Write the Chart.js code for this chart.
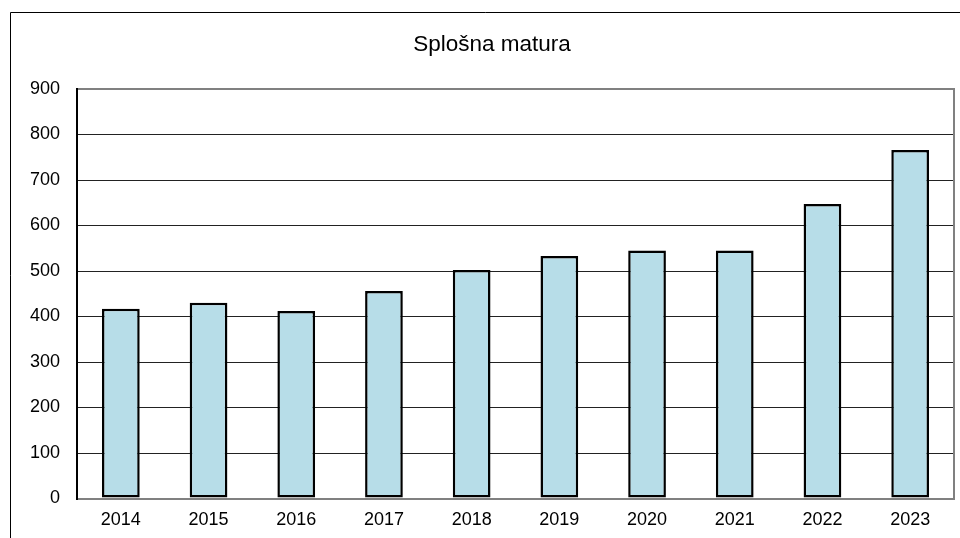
<!DOCTYPE html>
<html>
<head>
<meta charset="utf-8">
<script src="https://cdn.jsdelivr.net/npm/chart.js@4"></script>
<style>
  html, body { margin: 0; padding: 0; background: #fff; overflow: hidden; }
  #wrap { position: relative; width: 960px; height: 538px; }
</style>
</head>
<body>
<div id="wrap"><canvas id="chart"></canvas></div>
<script>
const chartTitle = "Splošna matura";
const years = ["2014", "2015", "2016", "2017", "2018", "2019", "2020", "2021", "2022", "2023"];
const candidates = [417, 430, 412, 456, 502, 533, 545, 545, 647, 766];
const yMin = 0;
const yMax = 900;
const yStep = 100;

const barFill = "#B7DDE8";
const fontFamily = "'Liberation Sans', Arial, sans-serif";

// outer frame (only left + top fall inside the picture), title over the frame,
// and the grey right edge of the plot
const framePlugin = {
  id: "frame",
  beforeDraw(chart) {
    const ctx = chart.ctx;
    ctx.save();
    ctx.strokeStyle = "#000";
    ctx.lineWidth = 1;
    ctx.beginPath();
    ctx.moveTo(10.5, 538);
    ctx.lineTo(10.5, 12.5);
    ctx.lineTo(960, 12.5);
    ctx.stroke();

    // title is centred on the outer frame, which runs past the right edge
    ctx.fillStyle = "#000";
    ctx.font = "22.5px " + fontFamily;
    ctx.textAlign = "center";
    ctx.textBaseline = "alphabetic";
    ctx.fillText(chartTitle, 492, 51);
    ctx.restore();
  },
  afterDatasetsDraw(chart) {
    const a = chart.chartArea;
    const ctx = chart.ctx;
    ctx.save();
    ctx.strokeStyle = "#808080";
    ctx.lineWidth = 2;
    ctx.beginPath();
    ctx.moveTo(a.right, a.top - 1);
    ctx.lineTo(a.right, a.bottom + 1);
    ctx.stroke();
    ctx.restore();
  }
};

Chart.defaults.font.family = fontFamily;
Chart.defaults.color = "#000";

new Chart(document.getElementById("chart"), {
  type: "bar",
  plugins: [framePlugin],
  data: {
    labels: years,
    datasets: [{
      data: candidates,
      backgroundColor: barFill,
      borderColor: "#000",
      borderWidth: 2.5,
      borderSkipped: false,
      categoryPercentage: 1,
      barPercentage: 0.43
    }]
  },
  options: {
    responsive: true,
    maintainAspectRatio: false,
    animation: false,
    layout: { padding: { left: 10, right: 6, top: 89, bottom: 7 } },
    plugins: {
      legend: { display: false },
      tooltip: { enabled: false },
      title: { display: false }
    },
    scales: {
      x: {
        afterFit(scale) { scale.height = 32.5; },
        grid: { display: false, drawTicks: false },
        border: { color: "#808080", width: 2 },
        ticks: { font: { size: 18 }, padding: 11, maxRotation: 0 }
      },
      y: {
        min: yMin,
        max: yMax,
        afterFit(scale) { scale.width = 67; },
        grid: {
          drawTicks: false,
          color: (c) => (c.tick && (c.tick.value === yMax || c.tick.value === yMin)) ? "#808080" : "#222",
          lineWidth: (c) => (c.tick && (c.tick.value === yMax || c.tick.value === yMin)) ? 2 : 1
        },
        border: { color: "#000", width: 2 },
        ticks: { stepSize: yStep, font: { size: 18 }, padding: 17 }
      }
    }
  }
});
</script>
</body>
</html>
